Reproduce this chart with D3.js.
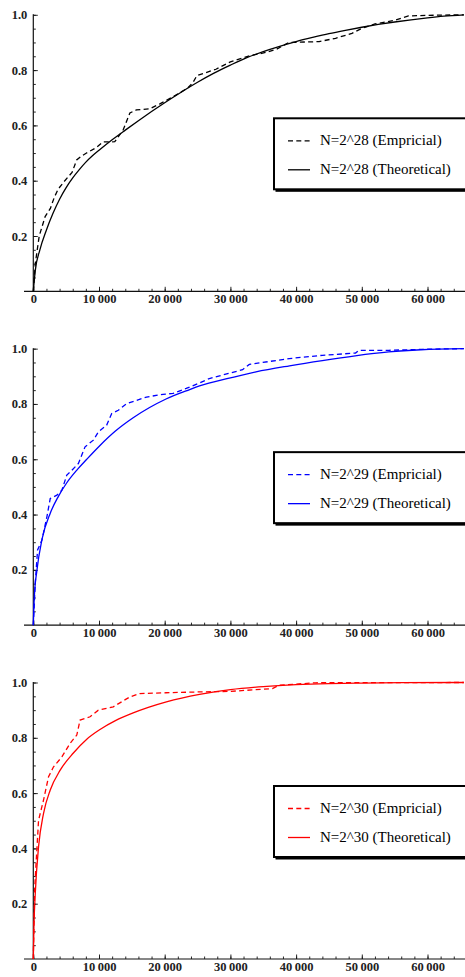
<!DOCTYPE html>
<html lang="en">

<head>
    <title>Empirical vs theoretical</title>
    <meta charset="utf-8">
    <script src="https://d3js.org/d3.v7.min.js"></script>
    <style>
        body { margin: 0; background: #fff; }
        svg { display: block; }
    </style>
</head>

<body>
    <div id="container"></div>
    <script>
        // Data
        const emp28 = [[0, 0], [300, 0.1], [900, 0.2], [1800, 0.27], [2600, 0.3], [3200, 0.34], [3800, 0.37], [4800, 0.4],
            [5900, 0.43], [6600, 0.475], [7400, 0.49], [8100, 0.5], [9600, 0.52], [10600, 0.54], [12400, 0.541],
            [13700, 0.585], [14700, 0.645], [15700, 0.656], [17700, 0.66], [19200, 0.677], [21300, 0.704],
            [23500, 0.735], [24300, 0.755], [24900, 0.78], [27800, 0.803], [30000, 0.83], [32900, 0.852],
            [34900, 0.861], [37000, 0.875], [38900, 0.9], [43500, 0.903], [46000, 0.915], [48500, 0.933],
            [50000, 0.951], [52000, 0.967], [55000, 0.98], [57100, 0.996], [60000, 0.998], [65536, 1]];
        const theo28 = [[0, 0], [300, 0.075], [1000, 0.15], [2000, 0.222], [3000, 0.282], [4000, 0.333], [5000, 0.375],
            [6000, 0.41], [7000, 0.44], [8000, 0.467], [9000, 0.49], [10000, 0.51], [12000, 0.548], [14000, 0.583],
            [16000, 0.617], [18000, 0.65], [20000, 0.682], [22500, 0.72], [25000, 0.756], [27500, 0.789],
            [30000, 0.818], [32500, 0.845], [35000, 0.867], [37500, 0.886], [40000, 0.903], [42500, 0.918],
            [45000, 0.932], [47500, 0.944], [50000, 0.955], [52500, 0.965], [55000, 0.974], [57500, 0.982],
            [60000, 0.989], [62500, 0.995], [65536, 1]];

        const emp29 = [[0, 0], [300, 0.153], [650, 0.272], [1320, 0.308], [2070, 0.392], [2580, 0.458], [3590, 0.47],
            [4350, 0.488], [5100, 0.543], [5860, 0.56], [6870, 0.585], [7880, 0.645], [9140, 0.669], [9900, 0.699],
            [11160, 0.723], [11920, 0.765], [12930, 0.777], [14200, 0.801], [17230, 0.825], [19740, 0.835],
            [21260, 0.838], [23280, 0.856], [25300, 0.876], [26800, 0.892], [31860, 0.924], [32880, 0.943],
            [38940, 0.964], [44000, 0.976], [49040, 0.984], [49550, 0.994], [54100, 0.994], [60000, 0.998], [65536, 1]];
        const theo29 = [[0, 0], [150, 0.1], [560, 0.2], [1320, 0.31], [2580, 0.405], [3800, 0.465], [5100, 0.515],
            [6600, 0.56], [8140, 0.6], [10150, 0.65], [12500, 0.702], [15200, 0.75], [17700, 0.787], [20200, 0.818],
            [23800, 0.852], [25300, 0.865], [30000, 0.894], [33900, 0.916], [39000, 0.938], [44000, 0.957],
            [49000, 0.974], [54100, 0.988], [59000, 0.996], [65536, 1]];

        const emp30 = [[0, 0], [200, 0.25], [450, 0.358], [800, 0.502], [1560, 0.575], [2320, 0.659], [3080, 0.695],
            [4350, 0.731], [5600, 0.78], [6620, 0.81], [7120, 0.864], [8640, 0.876], [9900, 0.9], [12170, 0.912],
            [14700, 0.948], [16200, 0.96], [20200, 0.963], [25300, 0.966], [30000, 0.968], [36400, 0.978],
            [37400, 0.99], [43000, 0.999], [65536, 1]];
        const theo30 = [[0, 0], [100, 0.12], [300, 0.237], [800, 0.406], [1560, 0.527], [2580, 0.611], [4090, 0.683],
            [6100, 0.745], [8140, 0.795], [10150, 0.83], [12500, 0.862], [15200, 0.89], [17500, 0.91],
            [20260, 0.93], [25300, 0.957], [30000, 0.974], [35000, 0.985], [40000, 0.992], [45000, 0.996],
            [50000, 0.998], [56000, 0.9995], [65536, 1]];

        const exponents = ["28", "29", "30"];
        const colors = ["#000000", "#0000ff", "#ff0000"];
        const xMajorTicks = [0, 10000, 20000, 30000, 40000, 50000, 60000];
        const yMajorTicks = [0.2, 0.4, 0.6, 0.8, 1.0];

        const panels = [
            { emp: emp28, theo: theo28 },
            { emp: emp29, theo: theo29 },
            { emp: emp30, theo: theo30 }
        ];

        // Dimensions
        const W = 465, H = 977;
        const panelStep = 333.85;
        const xLeft = 33.3;
        const serif = "'Liberation Serif', 'Times New Roman', serif";

        const svg = d3.select("#container")
            .append("svg")
            .attr("width", W)
            .attr("height", H);

        const x = d3.scaleLinear()
            .domain([0, 65536])
            .range([xLeft, xLeft + 65536 * 0.00657]);

        const fmt = d => d === 0 ? "0" : d3.format(",")(d).replace(",", "\u2009");

        panels.forEach((p, i) => {
            const top = i * panelStep;
            const g = svg.append("g").attr("transform", `translate(0,${top})`);

            const y = d3.scaleLinear()
                .domain([0, 1])
                .range([291.3, 14.8]);

            // Minor ticks
            g.append("g")
                .attr("transform", `translate(0,${y(0)})`)
                .call(d3.axisBottom(x).tickValues(d3.range(0, 65000, 2000)).tickSizeInner(-2.5).tickSizeOuter(0).tickFormat(""))
                .call(a => a.select(".domain").remove());
            g.append("g")
                .attr("transform", `translate(${xLeft},0)`)
                .call(d3.axisLeft(y).tickValues(d3.range(0.05, 1.001, 0.05)).tickSizeInner(-2.5).tickSizeOuter(0).tickFormat(""))
                .call(a => a.select(".domain").remove());

            // Major ticks with labels
            g.append("g")
                .attr("transform", `translate(0,${y(0)})`)
                .call(d3.axisBottom(x).tickValues(xMajorTicks).tickSizeInner(-4.5).tickSizeOuter(0).tickPadding(3.2).tickFormat(fmt))
                .call(a => a.select(".domain").remove());
            g.append("g")
                .attr("transform", `translate(${xLeft},0)`)
                .call(d3.axisLeft(y).tickValues(yMajorTicks).tickSizeInner(-4.5).tickSizeOuter(0).tickPadding(6).tickFormat(d3.format(".1f")))
                .call(a => a.select(".domain").remove());

            g.selectAll(".tick line").attr("stroke", "#111").attr("stroke-width", 0.9);
            g.selectAll(".tick text")
                .style("font-family", serif)
                .style("font-size", "12.5px")
                .style("font-weight", "bold")
                .style("fill", "#222");

            // Axis lines
            g.append("line")
                .attr("x1", 24).attr("x2", W)
                .attr("y1", y(0)).attr("y2", y(0))
                .attr("stroke", "#111").attr("stroke-width", 1.2);
            g.append("line")
                .attr("x1", xLeft).attr("x2", xLeft)
                .attr("y1", y(0)).attr("y2", y(1) - 0.5)
                .attr("stroke", "#111").attr("stroke-width", 1.2);

            // Curves
            const line = d3.line().x(d => x(d[0])).y(d => y(d[1]));

            g.append("path")
                .datum(p.theo)
                .attr("d", line.curve(d3.curveMonotoneX))
                .attr("fill", "none")
                .attr("stroke", colors[i])
                .attr("stroke-width", 1.3);

            g.append("path")
                .datum(p.emp)
                .attr("d", line.curve(d3.curveLinear))
                .attr("fill", "none")
                .attr("stroke", colors[i])
                .attr("stroke-width", 1.3)
                .attr("stroke-dasharray", "5,3.3");

            // Legend
            const lg = g.append("g").attr("transform", "translate(274,118.3)");
            lg.append("rect")
                .attr("x", 1.5).attr("y", 1.5)
                .attr("width", 200).attr("height", 72)
                .attr("fill", "#000");
            lg.append("rect")
                .attr("x", 0).attr("y", 0)
                .attr("width", 200).attr("height", 71)
                .attr("fill", "#fff")
                .attr("stroke", "#000")
                .attr("stroke-width", 2);

            const rows = [
                { label: `N=2^${exponents[i]} (Empricial)`, dash: "5,3.3", ly: 22.5 },
                { label: `N=2^${exponents[i]} (Theoretical)`, dash: null, ly: 51.5 }
            ];
            rows.forEach(r => {
                lg.append("line")
                    .attr("x1", 14).attr("x2", 36)
                    .attr("y1", r.ly).attr("y2", r.ly)
                    .attr("stroke", colors[i])
                    .attr("stroke-width", 1.3)
                    .attr("stroke-dasharray", r.dash);
                lg.append("text")
                    .style("font-family", serif)
                    .style("font-size", "15px")
                    .style("fill", "#000")
                    .attr("x", 46)
                    .attr("y", r.ly + 4.5)
                    .text(r.label);
            });
        });
    </script>
</body>

</html>
